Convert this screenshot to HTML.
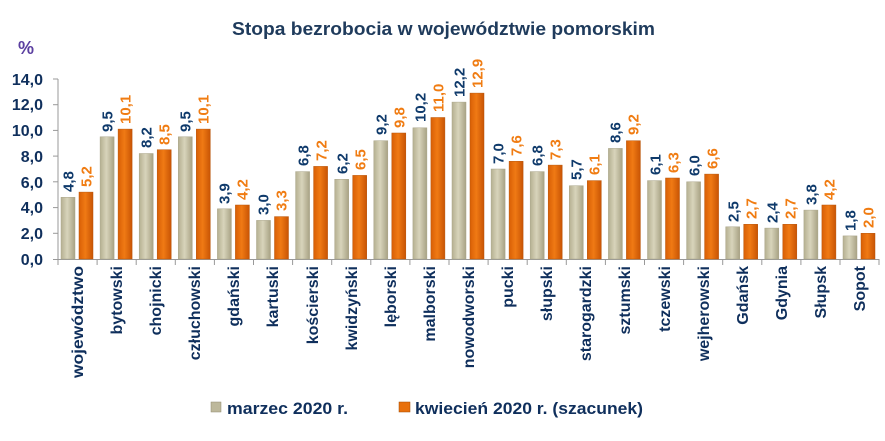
<!DOCTYPE html>
<html><head><meta charset="utf-8"><style>
html,body{margin:0;padding:0;background:#fff;}
svg{display:block;font-family:"Liberation Sans",sans-serif;font-weight:bold;}
.g{fill:url(#gg);stroke:#a9a488;stroke-width:0.5}
.o{fill:url(#og);stroke:#b8560a;stroke-width:0.5}
.lg{fill:#0f3a6b;font-size:15px}
.lo{fill:#f07c12;font-size:15px}
.c{fill:#0f2f5c;font-size:16px}
.y{fill:#0f2f5c;font-size:16px}
</style></head><body>
<svg width="885" height="441" viewBox="0 0 885 441">
<defs>
<linearGradient id="gg" x1="0" x2="1" y1="0" y2="0"><stop offset="0" stop-color="#b5b091"/><stop offset="0.45" stop-color="#d8d4bb"/><stop offset="1" stop-color="#a8a284"/></linearGradient>
<linearGradient id="og" x1="0" x2="1" y1="0" y2="0"><stop offset="0" stop-color="#d85f06"/><stop offset="0.45" stop-color="#f07a14"/><stop offset="1" stop-color="#c85404"/></linearGradient>
</defs>
<text x="232" y="35" font-size="18" fill="#1f3b5c" textLength="423" lengthAdjust="spacingAndGlyphs">Stopa bezrobocia w województwie pomorskim</text>
<text x="18" y="54" font-size="18" fill="#5b3fa0">%</text>
<g class="y" text-anchor="end">
<text x="43" y="265">0,0</text><text x="43" y="239">2,0</text><text x="43" y="213">4,0</text><text x="43" y="188">6,0</text><text x="43" y="162">8,0</text><text x="43" y="136">10,0</text><text x="43" y="110">12,0</text><text x="43" y="85">14,0</text>
</g>
<g stroke="#999" stroke-width="1">
<line x1="58" y1="79" x2="58" y2="265"/><line x1="53" y1="259.5" x2="879" y2="259.5"/>
<line x1="53" y1="79" x2="58" y2="79"/><line x1="53" y1="104.7" x2="58" y2="104.7"/><line x1="53" y1="130.4" x2="58" y2="130.4"/><line x1="53" y1="156.1" x2="58" y2="156.1"/><line x1="53" y1="181.8" x2="58" y2="181.8"/><line x1="53" y1="207.6" x2="58" y2="207.6"/><line x1="53" y1="233.3" x2="58" y2="233.3"/>
<line x1="97.1" y1="259" x2="97.1" y2="265"/><line x1="136.2" y1="259" x2="136.2" y2="265"/><line x1="175.3" y1="259" x2="175.3" y2="265"/><line x1="214.4" y1="259" x2="214.4" y2="265"/><line x1="253.5" y1="259" x2="253.5" y2="265"/><line x1="292.6" y1="259" x2="292.6" y2="265"/><line x1="331.7" y1="259" x2="331.7" y2="265"/><line x1="370.8" y1="259" x2="370.8" y2="265"/><line x1="409.9" y1="259" x2="409.9" y2="265"/><line x1="449" y1="259" x2="449" y2="265"/><line x1="488.1" y1="259" x2="488.1" y2="265"/><line x1="527.2" y1="259" x2="527.2" y2="265"/><line x1="566.3" y1="259" x2="566.3" y2="265"/><line x1="605.4" y1="259" x2="605.4" y2="265"/><line x1="644.5" y1="259" x2="644.5" y2="265"/><line x1="683.6" y1="259" x2="683.6" y2="265"/><line x1="722.7" y1="259" x2="722.7" y2="265"/><line x1="761.8" y1="259" x2="761.8" y2="265"/><line x1="800.9" y1="259" x2="800.9" y2="265"/><line x1="840" y1="259" x2="840" y2="265"/><line x1="879" y1="259" x2="879" y2="265"/>
</g>
<g>
<rect class="g" x="61" y="197.3" width="14" height="61.7"/><rect class="o" x="79" y="192.1" width="14" height="66.9"/>
<rect class="g" x="100.1" y="136.8" width="14" height="122.2"/><rect class="o" x="118.1" y="129.1" width="14" height="129.9"/>
<rect class="g" x="139.2" y="153.5" width="14" height="105.5"/><rect class="o" x="157.2" y="149.7" width="14" height="109.3"/>
<rect class="g" x="178.3" y="136.8" width="14" height="122.2"/><rect class="o" x="196.3" y="129.1" width="14" height="129.9"/>
<rect class="g" x="217.4" y="208.8" width="14" height="50.2"/><rect class="o" x="235.4" y="205" width="14" height="54"/>
<rect class="g" x="256.5" y="220.4" width="14" height="38.6"/><rect class="o" x="274.5" y="216.6" width="14" height="42.4"/>
<rect class="g" x="295.6" y="171.6" width="14" height="87.4"/><rect class="o" x="313.6" y="166.4" width="14" height="92.6"/>
<rect class="g" x="334.7" y="179.3" width="14" height="79.7"/><rect class="o" x="352.7" y="175.4" width="14" height="83.6"/>
<rect class="g" x="373.8" y="140.7" width="14" height="118.3"/><rect class="o" x="391.8" y="133" width="14" height="126"/>
<rect class="g" x="412.9" y="127.8" width="14" height="131.2"/><rect class="o" x="430.9" y="117.5" width="14" height="141.5"/>
<rect class="g" x="452" y="102.1" width="14" height="156.9"/><rect class="o" x="470" y="93.1" width="14" height="165.9"/>
<rect class="g" x="491.1" y="169" width="14" height="90"/><rect class="o" x="509.1" y="161.3" width="14" height="97.7"/>
<rect class="g" x="530.2" y="171.6" width="14" height="87.4"/><rect class="o" x="548.2" y="165.1" width="14" height="93.9"/>
<rect class="g" x="569.3" y="185.7" width="14" height="73.3"/><rect class="o" x="587.3" y="180.6" width="14" height="78.4"/>
<rect class="g" x="608.4" y="148.4" width="14" height="110.6"/><rect class="o" x="626.4" y="140.7" width="14" height="118.3"/>
<rect class="g" x="647.5" y="180.6" width="14" height="78.4"/><rect class="o" x="665.5" y="178" width="14" height="81"/>
<rect class="g" x="686.6" y="181.8" width="14" height="77.2"/><rect class="o" x="704.6" y="174.1" width="14" height="84.9"/>
<rect class="g" x="725.7" y="226.8" width="14" height="32.2"/><rect class="o" x="743.7" y="224.3" width="14" height="34.7"/>
<rect class="g" x="764.8" y="228.1" width="14" height="30.9"/><rect class="o" x="782.8" y="224.3" width="14" height="34.7"/>
<rect class="g" x="803.9" y="210.1" width="14" height="48.9"/><rect class="o" x="821.9" y="205" width="14" height="54"/>
<rect class="g" x="843" y="235.9" width="14" height="23.1"/><rect class="o" x="861" y="233.3" width="14" height="25.7"/>
</g>
<g class="lg">
<text transform="translate(73.5,192) rotate(-90)">4,8</text>
<text transform="translate(112.5,132) rotate(-90)">9,5</text>
<text transform="translate(151.5,148) rotate(-90)">8,2</text>
<text transform="translate(190.5,132) rotate(-90)">9,5</text>
<text transform="translate(229.5,204) rotate(-90)">3,9</text>
<text transform="translate(268.5,215) rotate(-90)">3,0</text>
<text transform="translate(308.5,166) rotate(-90)">6,8</text>
<text transform="translate(347.5,174) rotate(-90)">6,2</text>
<text transform="translate(386.5,135) rotate(-90)">9,2</text>
<text transform="translate(425.5,122) rotate(-90)">10,2</text>
<text transform="translate(464.5,97) rotate(-90)">12,2</text>
<text transform="translate(503.5,164) rotate(-90)">7,0</text>
<text transform="translate(542.5,166) rotate(-90)">6,8</text>
<text transform="translate(581.5,180) rotate(-90)">5,7</text>
<text transform="translate(620.5,143) rotate(-90)">8,6</text>
<text transform="translate(660.5,175) rotate(-90)">6,1</text>
<text transform="translate(699.5,176) rotate(-90)">6,0</text>
<text transform="translate(738.5,222) rotate(-90)">2,5</text>
<text transform="translate(777.5,223) rotate(-90)">2,4</text>
<text transform="translate(816.5,205) rotate(-90)">3,8</text>
<text transform="translate(855.5,231) rotate(-90)">1,8</text>
</g>
<g class="lo">
<text transform="translate(91.5,187) rotate(-90)">5,2</text>
<text transform="translate(130.5,124) rotate(-90)">10,1</text>
<text transform="translate(169.5,145) rotate(-90)">8,5</text>
<text transform="translate(208.5,124) rotate(-90)">10,1</text>
<text transform="translate(247.5,200) rotate(-90)">4,2</text>
<text transform="translate(286.5,211) rotate(-90)">3,3</text>
<text transform="translate(326.5,161) rotate(-90)">7,2</text>
<text transform="translate(365.5,170) rotate(-90)">6,5</text>
<text transform="translate(404.5,128) rotate(-90)">9,8</text>
<text transform="translate(443.5,112) rotate(-90)">11,0</text>
<text transform="translate(482.5,88) rotate(-90)">12,9</text>
<text transform="translate(521.5,156) rotate(-90)">7,6</text>
<text transform="translate(560.5,160) rotate(-90)">7,3</text>
<text transform="translate(599.5,175) rotate(-90)">6,1</text>
<text transform="translate(638.5,135) rotate(-90)">9,2</text>
<text transform="translate(678.5,173) rotate(-90)">6,3</text>
<text transform="translate(717.5,169) rotate(-90)">6,6</text>
<text transform="translate(756.5,219) rotate(-90)">2,7</text>
<text transform="translate(795.5,219) rotate(-90)">2,7</text>
<text transform="translate(834.5,200) rotate(-90)">4,2</text>
<text transform="translate(873.5,228) rotate(-90)">2,0</text>
</g>
<g class="c" text-anchor="end">
<text transform="translate(83,266) rotate(-90)" textLength="112" lengthAdjust="spacingAndGlyphs">województwo</text>
<text transform="translate(122,266) rotate(-90)">bytowski</text>
<text transform="translate(161,266) rotate(-90)">chojnicki</text>
<text transform="translate(200,266) rotate(-90)">człuchowski</text>
<text transform="translate(239,266) rotate(-90)">gdański</text>
<text transform="translate(278,266) rotate(-90)">kartuski</text>
<text transform="translate(318,266) rotate(-90)">kościerski</text>
<text transform="translate(357,266) rotate(-90)">kwidzyński</text>
<text transform="translate(396,266) rotate(-90)">lęborski</text>
<text transform="translate(435,266) rotate(-90)">malborski</text>
<text transform="translate(474,266) rotate(-90)">nowodworski</text>
<text transform="translate(513,266) rotate(-90)">pucki</text>
<text transform="translate(552,266) rotate(-90)">słupski</text>
<text transform="translate(591,266) rotate(-90)">starogardzki</text>
<text transform="translate(630,266) rotate(-90)">sztumski</text>
<text transform="translate(670,266) rotate(-90)">tczewski</text>
<text transform="translate(709,266) rotate(-90)">wejherowski</text>
<text transform="translate(748,266) rotate(-90)">Gdańsk</text>
<text transform="translate(787,266) rotate(-90)">Gdynia</text>
<text transform="translate(826,266) rotate(-90)">Słupsk</text>
<text transform="translate(865,266) rotate(-90)">Sopot</text>
</g>
<rect x="211" y="402" width="10" height="10" fill="#bdb89b" stroke="#8f8a70" stroke-width="0.5"/>
<text x="227" y="414" font-size="17" fill="#0f2f5c" textLength="121" lengthAdjust="spacingAndGlyphs">marzec 2020 r.</text>
<rect x="399" y="402" width="11" height="10" fill="#e8700c" stroke="#a04a04" stroke-width="0.5"/>
<text x="415" y="414" font-size="17" fill="#0f2f5c" textLength="228" lengthAdjust="spacingAndGlyphs">kwiecień 2020 r. (szacunek)</text>
</svg>
</body></html>
